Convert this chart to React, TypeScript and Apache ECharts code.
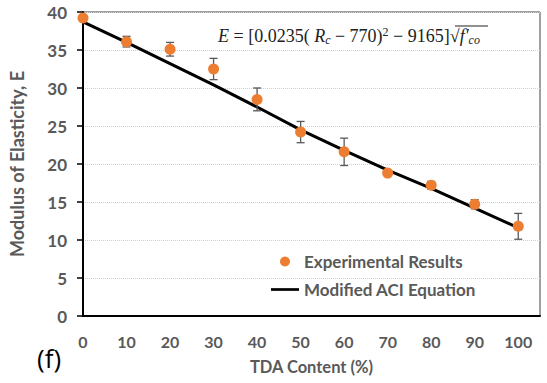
import React, { useEffect, useRef } from "react";
import * as echarts from "echarts";

const tdaContent = [0, 10, 20, 30, 40, 50, 60, 70, 80, 90, 100];
const experimental = [39.2, 36.1, 35.1, 32.5, 28.5, 24.2, 21.6, 18.8, 17.2, 14.7, 11.8];
const errors = [0.3, 0.7, 0.9, 1.4, 1.5, 1.4, 1.8, 0.3, 0.5, 0.6, 1.7];
const aciModel = [38.7, 36.0, 33.2, 30.4, 27.5, 24.5, 21.8, 19.2, 16.8, 14.2, 11.6];
const yTicks = [0, 5, 10, 15, 20, 25, 30, 35, 40];

const GRAY = "#595959";
const FONT = "Lato, 'Open Sans', sans-serif";

export default function App() {
  const ref = useRef<HTMLDivElement>(null);
  useEffect(() => {
    if (!ref.current) return;
    const chart = echarts.init(ref.current, null, { renderer: "svg" });
    const errData = tdaContent.map((x, i) => [x, experimental[i] - errors[i], experimental[i] + errors[i]]);
    chart.setOption({
      animation: false,
      backgroundColor: "#ffffff",
      grid: {
        left: 80,
        right: 7,
        top: 12,
        bottom: 67,
        show: true,
        borderColor: "#404040",
        borderWidth: 1,
      },
      xAxis: {
        type: "value",
        min: 0,
        max: 105,
        interval: 10,
        name: "TDA Content (%)",
        nameLocation: "middle",
        nameGap: 42,
        nameTextStyle: { color: GRAY, fontFamily: FONT, fontSize: 16.5, fontWeight: "bold" },
        axisLine: { lineStyle: { color: "#000", width: 2 } },
        axisTick: { show: false },
        splitLine: { show: false },
        axisLabel: {
          color: GRAY,
          fontFamily: FONT,
          fontSize: 16,
          fontWeight: "bold",
          margin: 17,
          formatter: (v: number) => (v > 100 ? "" : String(v)),
        },
      },
      yAxis: {
        type: "value",
        min: yTicks[0],
        max: yTicks[yTicks.length - 1],
        interval: 5,
        name: "Modulus of Elasticity, E",
        nameLocation: "middle",
        nameGap: 57,
        nameTextStyle: { color: GRAY, fontFamily: FONT, fontSize: 18, fontWeight: "bold" },
        axisLine: { show: true, lineStyle: { color: "#000", width: 2 } },
        axisTick: { show: true, length: 6, lineStyle: { color: "#000", width: 1.5 } },
        splitLine: { lineStyle: { color: "#d0d0d0", type: "dotted", width: 1 } },
        axisLabel: {
          color: GRAY,
          fontFamily: FONT,
          fontSize: 17,
          fontWeight: "bold",
          margin: 16,
        },
      },
      legend: {
        orient: "vertical",
        left: 266,
        top: 248,
        itemGap: 11,
        itemWidth: 28,
        itemHeight: 10,
        textStyle: { color: GRAY, fontFamily: FONT, fontSize: 17, fontWeight: "bold" },
        data: [
          { name: "Experimental Results", icon: "circle" },
          { name: "Modified ACI Equation", icon: "path://M0,0 L31,0 L31,3 L0,3 Z" },
        ],
      },
      series: [
        {
          name: "Modified ACI Equation",
          type: "line",
          data: tdaContent.map((x, i) => [x, aciModel[i]]),
          symbol: "none",
          lineStyle: { color: "#000", width: 3 },
          itemStyle: { color: "#000" },
          z: 2,
        },
        {
          name: "errorbars",
          type: "custom",
          data: errData,
          z: 3,
          renderItem: (params: any, api: any) => {
            const x = api.value(0);
            const lo = api.coord([x, api.value(1)]);
            const hi = api.coord([x, api.value(2)]);
            const cap = 4;
            const style = { stroke: GRAY, lineWidth: 1.3 };
            return {
              type: "group",
              children: [
                { type: "line", shape: { x1: lo[0], y1: lo[1], x2: hi[0], y2: hi[1] }, style },
                { type: "line", shape: { x1: lo[0] - cap, y1: lo[1], x2: lo[0] + cap, y2: lo[1] }, style },
                { type: "line", shape: { x1: hi[0] - cap, y1: hi[1], x2: hi[0] + cap, y2: hi[1] }, style },
              ],
            };
          },
        },
        {
          name: "Experimental Results",
          type: "scatter",
          data: tdaContent.map((x, i) => [x, experimental[i]]),
          symbol: "circle",
          symbolSize: 11,
          itemStyle: { color: "#ED7D31", opacity: 1 },
          z: 4,
        },
      ],
      graphic: [
        {
          type: "text",
          left: 218,
          top: 26,
          style: {
            text: "{it|E} = [0.0235( {it|R}{sub|c} − 770){sup|2} − 9165]√{it|f′}{sub|co}",
            fontFamily: "'Liberation Serif', serif",
            fontSize: 18,
            fill: "#222",
            rich: {
              it: { fontStyle: "italic", fontFamily: "'Liberation Serif', serif", fontSize: 18, fill: "#222" },
              sub: { fontStyle: "italic", fontFamily: "'Liberation Serif', serif", fontSize: 12, fill: "#222", verticalAlign: "bottom", padding: [8, 0, 0, 0] },
              sup: { fontFamily: "'Liberation Serif', serif", fontSize: 12, fill: "#222", padding: [0, 0, 8, 0] },
            },
          },
        },
        {
          type: "line",
          shape: { x1: 455, y1: 26, x2: 488, y2: 26 },
          style: { stroke: "#222", lineWidth: 1 },
        },
        {
          type: "text",
          left: 37,
          top: 345,
          style: { text: "(f)", fontFamily: "'Open Sans', sans-serif", fontSize: 26, fill: "#000" },
        },
      ],
    });
    return () => chart.dispose();
  }, []);
  return (
    <div
      ref={ref}
      style={{ position: "fixed", left: 0, top: 0, width: 547, height: 383, background: "#fff" }}
    />
  );
}
